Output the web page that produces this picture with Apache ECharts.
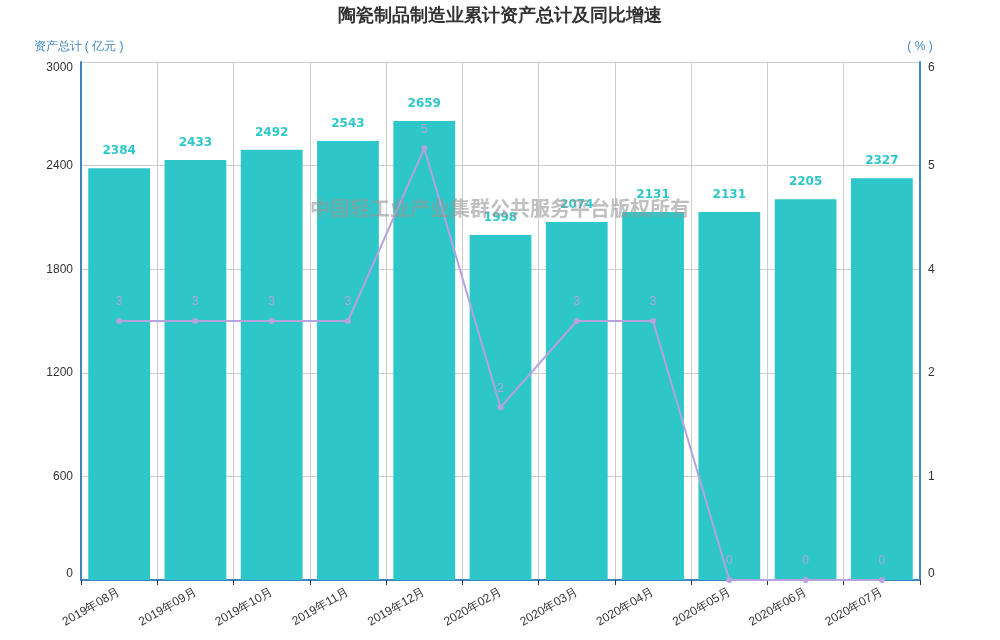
<!DOCTYPE html>
<html>
<head>
<meta charset="utf-8">
<script src="https://cdn.jsdelivr.net/npm/echarts@6/dist/echarts.min.js"></script>
<style>html,body{margin:0;padding:0;background:#fff;}</style>
</head>
<body>
<div id="main" style="width:1000px;height:640px;"></div>
<script type="text/javascript">
    // 数据
    let months = ['2019年08月','2019年09月','2019年10月','2019年11月','2019年12月','2020年02月','2020年03月','2020年04月','2020年05月','2020年06月','2020年07月'];
    let assets = [2384, 2433, 2492, 2543, 2659, 1998, 2074, 2131, 2131, 2205, 2327];
    let growth = [3, 3, 3, 3, 5, 2, 3, 3, 0, 0, 0];

    let myChart = echarts.init(document.getElementById('main'));
    let option = {
        title: {
            text: '陶瓷制品制造业累计资产总计及同比增速',
            left: 'center',
            top: 2,
            textStyle: {fontSize: 18, fontWeight: 'bold', color: '#333'}
        },
        graphic: [{
            type: 'text',
            left: 'center',
            top: 198,
            z: 100,
            style: {
                text: '中国轻工业产业集群公共服务平台版权所有',
                fill: 'rgba(150,150,150,0.6)',
                font: 'bold 20px "Noto Sans CJK SC", sans-serif'
            }
        }],
        grid: {left: 81, right: 80, top: 62, bottom: 60},
        xAxis: [{
            type: 'category',
            data: months,
            axisLine: {lineStyle: {color: '#3f86c1', width: 2}},
            axisTick: {show: true, lineStyle: {color: '#333'}},
            axisLabel: {rotate: 30, interval: 0, margin: 11, color: '#333', fontSize: 12},
            splitLine: {show: true, lineStyle: {color: '#ccc'}}
        }],
        yAxis: [
            {
                type: 'value',
                name: '资产总计 ( 亿元 )',
                nameGap: 9,
                nameTextStyle: {color: '#3f86c1', fontSize: 12, padding: [0, 0, 0, -5]},
                min: 0,
                max: 3000,
                interval: 600,
                axisLine: {show: true, lineStyle: {color: '#3f86c1', width: 2}},
                axisTick: {show: false},
                axisLabel: {
                    color: '#333', fontSize: 12,
                    verticalAlignMinLabel: 'bottom',
                    verticalAlignMaxLabel: 'top',
                    formatter: function (v) { return String(v); }
                },
                splitLine: {lineStyle: {color: '#ccc'}}
            },
            {
                type: 'value',
                name: '( % )',
                nameGap: 9,
                nameTextStyle: {color: '#3f86c1', fontSize: 12},
                min: 0,
                max: 6,
                interval: 1.2,
                axisLine: {show: true, lineStyle: {color: '#3f86c1', width: 2}},
                axisTick: {show: false},
                axisLabel: {
                    color: '#333', fontSize: 12,
                    verticalAlignMinLabel: 'bottom',
                    verticalAlignMaxLabel: 'top',
                    formatter: function (v) { return Math.round(v); }
                },
                splitLine: {show: false}
            }
        ],
        series: [
            {
                name: '资产总计',
                type: 'bar',
                data: assets,
                barCategoryGap: '19%',
                itemStyle: {color: '#2ec7c9'},
                label: {
                    show: true,
                    position: 'top',
                    distance: 11,
                    color: '#2ec7c9',
                    fontWeight: 'bold',
                    fontFamily: 'DejaVu Sans',
                    fontSize: 12
                }
            },
            {
                name: '同比增速',
                type: 'line',
                yAxisIndex: 1,
                data: growth,
                symbol: 'circle',
                symbolSize: 6,
                itemStyle: {color: '#b6a2de'},
                lineStyle: {color: '#b6a2de', width: 2},
                label: {
                    show: true,
                    position: 'top',
                    distance: 10,
                    color: '#b6a2de',
                    fontSize: 12,
                    formatter: function (p) { return Math.round(p.value); }
                }
            }
        ]
    };
    myChart.setOption(option);
</script>
</body>
</html>
